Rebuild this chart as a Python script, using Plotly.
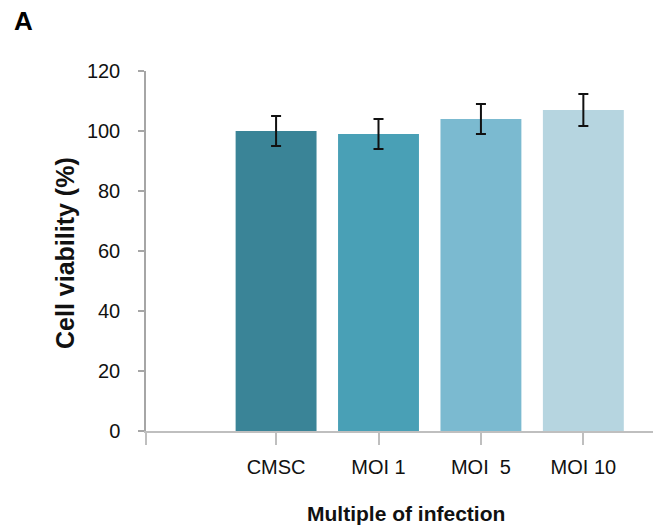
import plotly.graph_objects as go

categories = ["CMSC", "MOI 1", "MOI  5", "MOI 10"]
positions = [1, 2, 3, 4]
viability = [100, 99, 104, 107]
errors = [5, 5, 5, 5.3]
colors = ["#3a8497", "#49a0b6", "#7bbad0", "#b6d5e0"]
y_ticks = [0, 20, 40, 60, 80, 100, 120]

fig = go.Figure()
fig.add_trace(go.Bar(
    x=positions, y=viability, width=0.79,
    marker=dict(color=colors, line=dict(width=0)),
    error_y=dict(type="data", array=errors, visible=True,
                 color="#111111", thickness=2, width=5),
    showlegend=False,
))

x_lo, x_hi = -0.27, 4.68
fig.update_layout(
    width=657, height=527,
    margin=dict(l=146, r=4, t=71, b=96),
    paper_bgcolor="white", plot_bgcolor="white",
    font=dict(family="Liberation Sans, Arial, sans-serif", color="#111111"),
    xaxis=dict(
        range=[x_lo, x_hi],
        tickvals=[x_lo] + positions,
        ticktext=[""] + categories,
        ticks="outside", ticklen=12, tickwidth=2, tickcolor="#bfbfbf",
        showline=True, linecolor="#bfbfbf", linewidth=2,
        showgrid=False, zeroline=False,
        tickfont=dict(size=20, color="#111111"),
        ticklabelstandoff=5,
    ),
    yaxis=dict(
        range=[0, 120],
        tickvals=y_ticks,
        ticks="outside", ticklen=6, tickwidth=1.5, tickcolor="#a6a6a6",
        showline=True, linecolor="#a6a6a6", linewidth=1.5,
        showgrid=False, zeroline=False,
        tickfont=dict(size=20, color="#111111"),
        ticklabelstandoff=14,
    ),
    annotations=[
        dict(text="<b>Cell viability (%)</b>", textangle=-90,
             xref="paper", yref="paper", x=-(146 - 65) / 507, y=(431 - 253) / 360,
             xanchor="center", yanchor="middle", showarrow=False,
             font=dict(size=25, color="#111111")),
        dict(text="<b>Multiple of infection</b>",
             xref="paper", yref="paper", x=(406 - 146) / 507, y=-(513 - 431) / 360,
             xanchor="center", yanchor="middle", showarrow=False,
             font=dict(size=21, color="#111111")),
        dict(text="<b>A</b>",
             xref="paper", yref="paper", x=-(146 - 12) / 507, y=(431 - 21) / 360,
             xanchor="left", yanchor="middle", showarrow=False,
             font=dict(size=26, color="#000000")),
    ],
)

fig.write_html("out.html", config={"displayModeBar": False},
               post_script="document.body.style.margin='0px';")
